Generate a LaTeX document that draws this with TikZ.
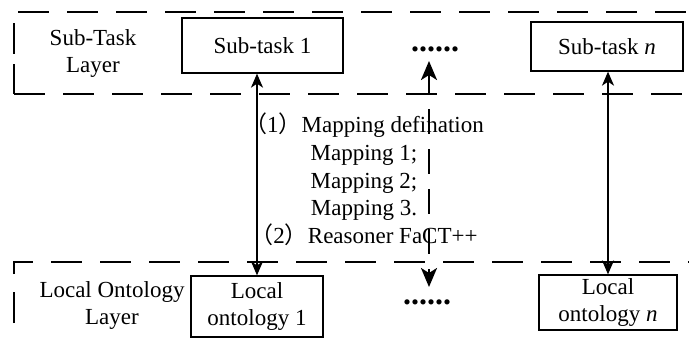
\documentclass[tikz,border=0pt]{standalone}
\usepackage{fontspec}
\setmainfont{Liberation Serif}
\newfontfamily\cjk{Noto Sans CJK SC}
\usetikzlibrary{arrows.meta}
\begin{document}
\begin{tikzpicture}[x=1pt,y=-1pt,
  layer/.style={line width=1.6pt, dash pattern=on 31pt off 18pt},
  taskbox/.style={draw, line width=1.3pt, inner sep=0pt, align=center,
    font=\fontsize{23}{27}\selectfont},
  caption/.style={align=center, inner sep=0pt, font=\fontsize{23}{27}\selectfont},
  ellip/.style={anchor=base, inner sep=0pt, font=\fontsize{32}{32}\selectfont\bfseries},
  link/.style={line width=1.5pt,
    {Stealth[length=14pt,width=12pt,inset=4pt]}-{Stealth[length=14pt,width=12pt,inset=4pt]}},
  dlink/.style={line width=2.6pt, dash pattern=on 25pt off 15pt, dash phase=5pt,
    {Stealth[length=19pt,width=16pt,inset=5pt]}-{Stealth[length=19pt,width=16pt,inset=5pt]}}
]
\useasboundingbox (0,0) rectangle (689,341);

% sub-task layer frame (open on the right)
\draw[layer] (18,12) -- (720,12);
\draw[layer] (14,94) -- (720,94);
\draw[layer, dash pattern=on 31pt off 10pt] (14,23) -- (14,94);

% local ontology layer frame (open on the right and at the bottom)
\draw[layer, dash phase=31pt] (14,341) -- (14,262) -- (720,262);

% layer captions
\node[caption] (stl) at (93,53) {Sub-Task\\Layer};
\node[caption] (lol) at (112,305) {Local Ontology\\Layer};

% sub-tasks
\node[taskbox, minimum width=161pt, minimum height=55pt] (st1) at (262.5,45.5) {Sub-task 1};
\node[taskbox, minimum width=152pt, minimum height=49pt] (stn) at (607,46.5) {Sub-task \textit{n}};
\node[ellip] (dtop) at (435,51.5) {......};

% local ontologies
\node[taskbox, minimum width=132pt, minimum height=61pt] (lo1) at (257,306.5) {Local\\ontology 1};
\node[taskbox, minimum width=138pt, minimum height=55pt] (lon) at (608,302.5) {Local\\ontology \textit{n}};
\node[ellip] (dbot) at (427,304.5) {......};

% mapping steps
\node[caption, font=\fontsize{23}{27.7}\selectfont] (steps) at (364,179.5)
  {{\cjk （}1{\cjk ）}Mapping defination\\Mapping 1;\\Mapping 2;\\Mapping 3.\\{\cjk （}2{\cjk ）}Reasoner FaCT++};

% connectors
\coordinate (mtop) at (429,61);
\coordinate (mbot) at (429,287);
\draw[link] (lo1.north |- st1.south) -- (lo1.north);
\draw[link] (lon.north |- stn.south) -- (lon.north);
\draw[dlink] (mtop) -- (mbot);
\end{tikzpicture}
\end{document}
